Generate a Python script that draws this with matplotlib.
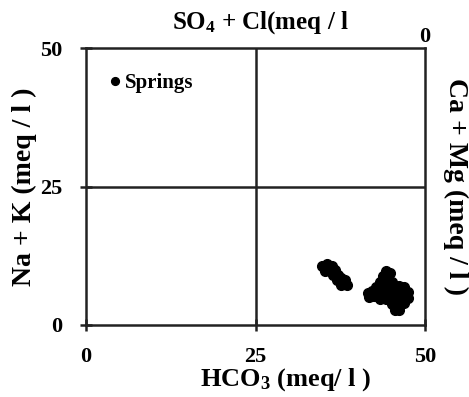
import matplotlib.pyplot as plt
import numpy as np

plt.rcParams['font.family'] = 'Liberation Serif'
plt.rcParams['font.weight'] = 'bold'
plt.rcParams['axes.labelweight'] = 'bold'
plt.rcParams['mathtext.fontset'] = 'custom'
plt.rcParams['mathtext.rm'] = 'Liberation Serif:bold'
plt.rcParams['mathtext.default'] = 'rm'

# Spring samples (meq/l)
hco3 = [34.8, 35.5, 36.3, 35.25, 36.0, 36.7, 36.4, 37.2, 37.6, 37.0, 38.2, 38.1, 38.5, 37.6,
        44.2, 44.8, 43.8, 44.5,
        43.4, 44.2, 45.1, 42.8, 43.7, 44.5, 45.4, 46.2, 46.9,
        41.6, 42.2, 42.5, 41.7,
        43.2, 44.1, 45.0, 45.9, 46.8, 47.5,
        43.4, 44.2, 45.1, 46.0, 46.9, 47.5,
        45.1, 46.0, 46.9,
        45.6, 46.2]
na_k = [10.65, 11.0, 10.65, 9.75, 9.75, 9.9, 9.0, 9.0, 8.5, 8.1, 8.1, 7.4, 7.2, 7.2,
        9.75, 9.39, 8.84, 8.48,
        7.76, 7.58, 7.76, 6.86, 6.68, 6.68, 6.86, 7.04, 6.86,
        5.78, 6.14, 5.23, 5.05,
        5.60, 5.60, 5.78, 5.96, 5.96, 5.96,
        4.69, 4.69, 4.87, 4.87, 4.87, 4.87,
        3.79, 3.79, 3.97,
        2.71, 2.71]

ticks = [0, 25, 50]

fig = plt.figure(figsize=(4.69, 3.97), dpi=100)
ax = fig.add_axes([0.1834, 0.1814, 0.7228, 0.6976])

ax.plot(hco3, na_k, 'o', color='black', markersize=7, label='Springs')

ax.axvline(25, color='#222222', lw=1.8)
ax.axhline(25, color='#222222', lw=1.8)

ax.set_xlim(0, 50)
ax.set_ylim(0, 50)
ax.set_xticks(ticks)
ax.set_yticks(ticks)
for s in ax.spines.values():
    s.set_linewidth(1.8)
    s.set_color('#222222')
ax.tick_params(direction='inout', length=8, width=1.8, color='#222222',
               labelsize=16)
ax.tick_params(axis='x', pad=12)
ax.tick_params(axis='y', pad=13)

ax.set_xlabel('HCO$_3$ (meq/ l )', fontsize=19)
ax.xaxis.set_label_coords(0.59, -0.15)
ax.set_ylabel('Na + K (meq / l )', fontsize=20, labelpad=2)

# opposite axes of the diamond projection
ax.text(0.515, 1.045, 'SO$_4$ + Cl(meq / l', transform=ax.transAxes,
        ha='center', va='bottom', fontsize=18)
ax.text(1.0, 1.005, '0', transform=ax.transAxes, ha='center', va='bottom',
        fontsize=16)
ax.text(1.09, 0.5, 'Ca + Mg (meq / l )', transform=ax.transAxes, rotation=-90,
        ha='center', va='center', fontsize=20)

ax.legend(loc='upper left', bbox_to_anchor=(0.035, 0.94), frameon=False,
          handletextpad=0.1, handlelength=0.8, borderaxespad=0,
          prop={'size': 15, 'weight': 'bold'}, markerscale=0.8)

fig.savefig('out.png', dpi=100)
